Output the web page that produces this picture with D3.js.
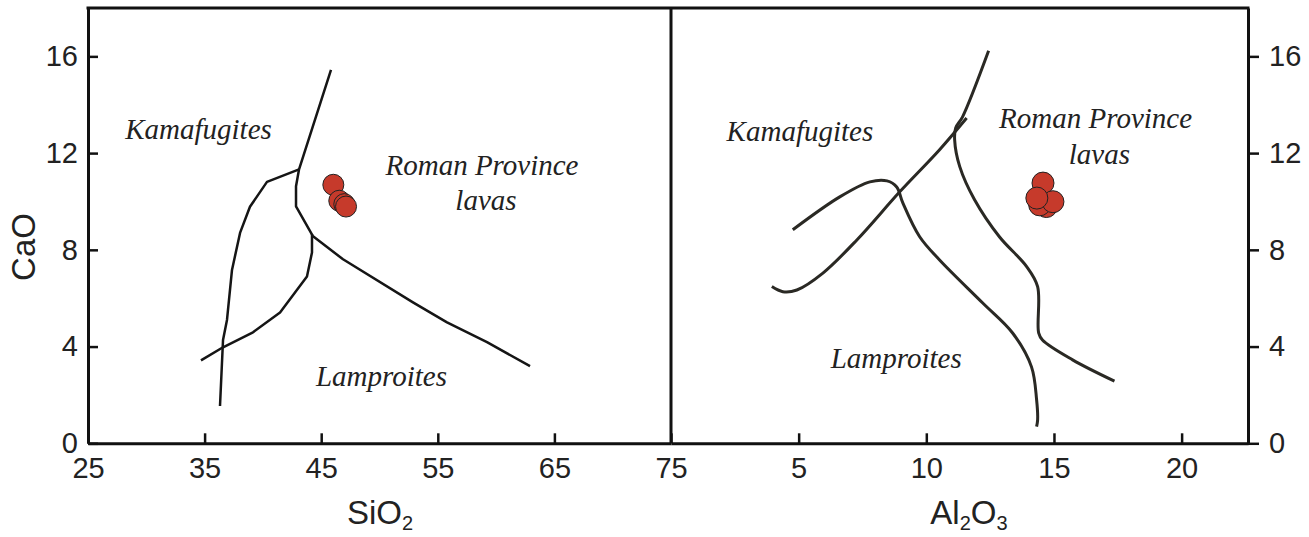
<!DOCTYPE html>
<html>
<head>
<meta charset="utf-8">
<script src="https://cdn.jsdelivr.net/npm/d3@7"></script>
<style>
  body { margin: 0; background: #fff; }
  svg { display: block; }
  .tick text { font-family: "Liberation Sans", Arial, sans-serif; font-size: 29px; fill: #222; }
  .field { font-family: "Liberation Serif", "Times New Roman", serif; font-style: italic; font-size: 29px; fill: #222; }
  .title { font-family: "Liberation Sans", Arial, sans-serif; font-size: 33px; fill: #222; }
</style>
</head>
<body>
<div id="chart"></div>
<script>
// tick values
var sio2Ticks = [25, 35, 45, 55, 65, 75];
var al2o3Ticks = [5, 10, 15, 20];
var caoTicks = [0, 4, 8, 12, 16];

// SiO2 - CaO field boundaries
var sioMain = [[45.84, 15.44], [43.10, 11.33], [42.84, 10.63], [42.84, 9.80], [44.30, 8.56], [46.87, 7.61],
  [52.87, 5.83], [55.79, 5.00], [59.22, 4.18], [62.91, 3.19]];
var sioLeft = [[43.10, 11.33], [40.35, 10.81], [38.89, 9.78], [38.04, 8.70], [37.35, 7.17], [36.92, 5.10],
  [36.58, 4.27], [36.32, 1.54]];
var sioLow = [[44.21, 8.64], [44.21, 7.89], [43.78, 6.90], [41.47, 5.41], [39.15, 4.59], [36.58, 3.97], [34.69, 3.43]];

// Al2O3 - CaO field boundaries
var alUpper = [[12.44, 16.23], [11.42, 13.50], [11.15, 13.04], [11.11, 12.55], [11.31, 11.44], [11.89, 10.07],
  [12.87, 8.53], [13.93, 7.31], [14.36, 6.48], [14.40, 4.57], [14.55, 4.27], [15.73, 3.45], [17.37, 2.57]];
var alDiag = [[3.95, 6.48], [4.38, 6.27], [4.93, 6.34], [5.95, 7.04], [7.28, 8.41], [8.96, 10.40],
  [10.52, 12.14], [11.58, 13.45]];
var alArch = [[4.77, 8.83], [6.61, 10.19], [7.79, 10.81], [8.46, 10.85], [8.84, 10.60], [9.08, 9.94],
  [9.74, 8.54], [10.52, 7.58], [12.21, 5.80], [13.38, 4.56], [14.12, 3.16], [14.32, 1.80], [14.36, 0.97], [14.32, 0.69]];

// Roman Province lavas samples
var sioSamples = [[46.04, 10.69], [46.55, 10.03], [46.98, 9.89], [47.13, 9.79]];
var alSamples = [[14.57, 10.76], [14.70, 9.79], [14.44, 9.86], [14.96, 9.99], [14.33, 10.14]];

// field names [text, x, y]
var sioNames = [["Kamafugites", 34.48, 12.59], ["Roman Province", 58.79, 11.10], ["lavas", 59.13, 9.65], ["Lamproites", 50.17, 2.37]];
var alNames = [["Kamafugites", 5.05, 12.48], ["Roman Province", 16.63, 13.05], ["lavas", 16.78, 11.56], ["Lamproites", 8.82, 3.12]];

var width = 1309, height = 537;
var svg = d3.select("#chart").append("svg").attr("width", width).attr("height", height);

var y = d3.scaleLinear().domain([0, 18]).range([443.3, 8]);
var xL = d3.scaleLinear().domain([25, 75]).range([88, 671]);
var xR = d3.scaleLinear().domain([0, 22.6]).range([671, 1248]);

function styleAxis(g) {
  g.select(".domain").attr("stroke", "#111").attr("stroke-width", 3);
  g.selectAll(".tick line").attr("stroke", "#111").attr("stroke-width", 2.5);
}

// left x axis
svg.append("g").attr("transform", "translate(0," + y(0) + ")")
  .call(d3.axisBottom(xL).tickValues(sio2Ticks).tickSize(-10).tickSizeOuter(0).tickPadding(14))
  .call(styleAxis);
// right x axis
svg.append("g").attr("transform", "translate(0," + y(0) + ")")
  .call(d3.axisBottom(xR).tickValues(al2o3Ticks).tickSize(-10).tickSizeOuter(0).tickPadding(14))
  .call(styleAxis);
// left y axis
svg.append("g").attr("transform", "translate(" + xL(25) + ",0)")
  .call(d3.axisLeft(y).tickValues(caoTicks).tickSize(-10).tickSizeOuter(0).tickPadding(10))
  .call(styleAxis);
// right y axis
svg.append("g").attr("transform", "translate(" + xR(22.6) + ",0)")
  .call(d3.axisRight(y).tickValues(caoTicks).tickSize(11).tickSizeOuter(0).tickPadding(10))
  .call(styleAxis);

// top border and panel divider
svg.append("line").attr("x1", xL(25) - 1.5).attr("x2", xR(22.6) + 1.5).attr("y1", y(18)).attr("y2", y(18))
  .attr("stroke", "#111").attr("stroke-width", 3);
svg.append("line").attr("x1", xL(75)).attr("x2", xL(75)).attr("y1", y(18)).attr("y2", y(0))
  .attr("stroke", "#111").attr("stroke-width", 3);

// boundaries
var lineL = d3.line().x(function(d) { return xL(d[0]); }).y(function(d) { return y(d[1]); });
var lineR = d3.line().x(function(d) { return xR(d[0]); }).y(function(d) { return y(d[1]); })
  .curve(d3.curveCatmullRom.alpha(0.5));

[sioMain, sioLeft, sioLow].forEach(function(c) {
  svg.append("path").attr("d", lineL(c)).attr("fill", "none")
    .attr("stroke", "#151515").attr("stroke-width", 2.5).attr("stroke-linejoin", "round");
});
[alUpper, alDiag, alArch].forEach(function(c) {
  svg.append("path").attr("d", lineR(c)).attr("fill", "none")
    .attr("stroke", "#2a2924").attr("stroke-width", 3).attr("stroke-linejoin", "round");
});

// samples
svg.append("g").selectAll("circle").data(sioSamples).enter().append("circle")
  .attr("cx", function(d) { return xL(d[0]); })
  .attr("cy", function(d) { return y(d[1]); })
  .attr("r", 10.5)
  .attr("fill", "#c63a2b").attr("stroke", "#222").attr("stroke-width", 1);
svg.append("g").selectAll("circle").data(alSamples).enter().append("circle")
  .attr("cx", function(d) { return xR(d[0]); })
  .attr("cy", function(d) { return y(d[1]); })
  .attr("r", 11)
  .attr("fill", "#c63a2b").attr("stroke", "#222").attr("stroke-width", 1);

// field names
svg.append("g").selectAll("text").data(sioNames).enter().append("text")
  .attr("class", "field").attr("text-anchor", "middle")
  .attr("x", function(d) { return xL(d[1]); })
  .attr("y", function(d) { return y(d[2]); })
  .text(function(d) { return d[0]; });
svg.append("g").selectAll("text").data(alNames).enter().append("text")
  .attr("class", "field").attr("text-anchor", "middle")
  .attr("x", function(d) { return xR(d[1]); })
  .attr("y", function(d) { return y(d[2]); })
  .text(function(d) { return d[0]; });

// axis titles
var t1 = svg.append("text").attr("class", "title").attr("text-anchor", "middle")
  .attr("x", 380).attr("y", 524);
t1.append("tspan").text("SiO");
t1.append("tspan").attr("font-size", "20px").attr("dy", 6).text("2");

var t2 = svg.append("text").attr("class", "title").attr("text-anchor", "middle")
  .attr("x", 969).attr("y", 524);
t2.append("tspan").text("Al");
t2.append("tspan").attr("font-size", "20px").attr("dy", 6).text("2");
t2.append("tspan").attr("dy", -6).text("O");
t2.append("tspan").attr("font-size", "20px").attr("dy", 6).text("3");

svg.append("text").attr("class", "title").attr("text-anchor", "middle")
  .attr("transform", "translate(35,247) rotate(-90)")
  .text("CaO");
</script>
</body>
</html>
